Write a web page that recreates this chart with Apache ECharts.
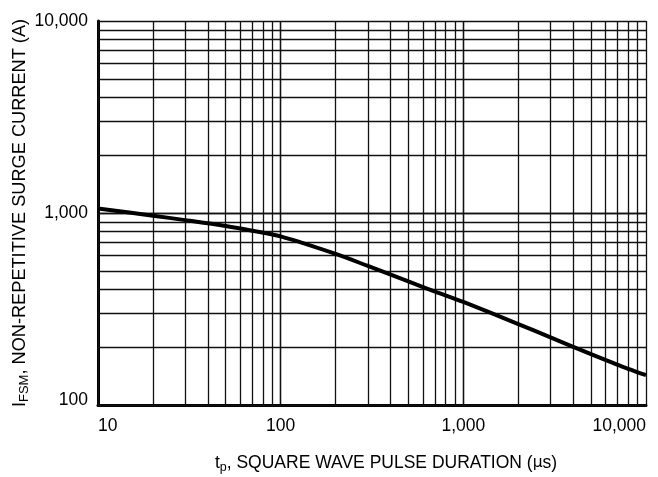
<!DOCTYPE html>
<html>
<head>
<meta charset="utf-8">
<script src="https://cdn.jsdelivr.net/npm/echarts@6/dist/echarts.min.js"></script>
<style>
  html, body { margin: 0; padding: 0; background: #fff; }
  #chart { width: 658px; height: 477px; }
</style>
</head>
<body>
<div id="chart"></div>
<script>
// Pulse duration (µs) and the matching peak non-repetitive surge current (A)
const pulseDuration = [10, 20, 30, 50, 70, 100, 200, 300, 500, 700, 1000, 2000, 3000, 5000, 7000, 10000];
const surgeCurrent = [1055, 968, 918, 855, 808, 755, 612, 530, 440, 390, 344, 264, 225, 184, 162, 143];

// Log-paper grid: every 1..9 step inside each decade
const xGridValues = [];
for (const d of [10, 100, 1000]) for (let k = 1; k <= 10; k++) xGridValues.push(d * k);
const yGridValues = [];
for (const d of [100, 1000]) for (let k = 1; k <= 10; k++) yGridValues.push(d * k);

const FONT = '"Liberation Sans", Arial, Helvetica, sans-serif';
const FS = 17.5;
const FS_YNAME = 18.2;
const gridColor = '#111';

function commaFmt(v) { return Math.round(v).toLocaleString('en-US'); }

const chart = echarts.init(document.getElementById('chart'), null, { renderer: 'canvas' });

chart.setOption({
  animation: false,
  backgroundColor: '#fff',
  grid: { left: 98, right: 12, top: 21, bottom: 72, containLabel: false, outerBoundsMode: 'none' },
  xAxis: {
    type: 'log',
    logBase: 10,
    min: 10,
    max: 10000,
    axisLine: { show: true, onZero: false, lineStyle: { color: '#000', width: 3 } },
    axisTick: { show: false },
    splitLine: { show: false },
    axisLabel: {
      color: '#000', fontFamily: FONT, fontSize: FS, margin: 12,
      formatter: commaFmt,
      alignMinLabel: 'left',
      alignMaxLabel: 'right'
    },
    name: '{m|t}{s|p}{m|, SQUARE WAVE PULSE DURATION (}{g|µ}{m|s)}',
    nameLocation: 'middle',
    nameGap: 47,
    nameMoveOverlap: false,
    nameTextStyle: {
      color: '#000', fontFamily: FONT, fontSize: FS,
      padding: [0, 0, 0, 28],
      rich: {
        m: { fontFamily: FONT, fontSize: FS, color: '#000', lineHeight: 22 },
        s: { fontFamily: FONT, fontSize: 12.5, color: '#000', lineHeight: 22, verticalAlign: 'bottom', padding: [6, 0, 0, 0] },
        g: { fontFamily: '"DejaVu Sans", sans-serif', fontSize: 15.5, color: '#000', lineHeight: 22 }
      }
    }
  },
  yAxis: {
    type: 'log',
    logBase: 10,
    min: 100,
    max: 10000,
    axisLine: { show: true, onZero: false, lineStyle: { color: '#000', width: 3 } },
    axisTick: { show: false },
    splitLine: { show: false },
    axisLabel: {
      color: '#000', fontFamily: FONT, fontSize: FS, margin: 10,
      formatter: function (v) {
        return v <= 100 ? '{lo|' + commaFmt(v) + '}' : commaFmt(v);
      },
      rich: {
        lo: { fontFamily: FONT, fontSize: FS, color: '#000', padding: [0, 0, 10, 0] }
      }
    },
    name: '{m|I}{s|FSM}{m|, NON-REPETITIVE SURGE CURRENT (A)}',
    nameLocation: 'middle',
    nameRotate: 90,
    nameGap: 67,
    nameMoveOverlap: false,
    nameTextStyle: {
      color: '#000', fontFamily: FONT, fontSize: FS_YNAME,
      rich: {
        m: { fontFamily: FONT, fontSize: FS_YNAME, color: '#000', lineHeight: 22 },
        s: { fontFamily: FONT, fontSize: 13, color: '#000', lineHeight: 22, verticalAlign: 'bottom', padding: [5, 0, 0, 0] }
      }
    }
  },
  series: [
    {
      type: 'line',
      data: pulseDuration.map((x, i) => [x, surgeCurrent[i]]),
      smooth: 0.3,
      showSymbol: false,
      lineStyle: { color: '#000', width: 4 },
      z: 5,
      markLine: {
        silent: true,
        symbol: 'none',
        animation: false,
        label: { show: false },
        lineStyle: { color: gridColor, width: 1.3, type: 'solid' },
        data: xGridValues.map(v => ({ xAxis: v })).concat(yGridValues.map(v => ({ yAxis: v })))
      }
    }
  ]
});
</script>
</body>
</html>
